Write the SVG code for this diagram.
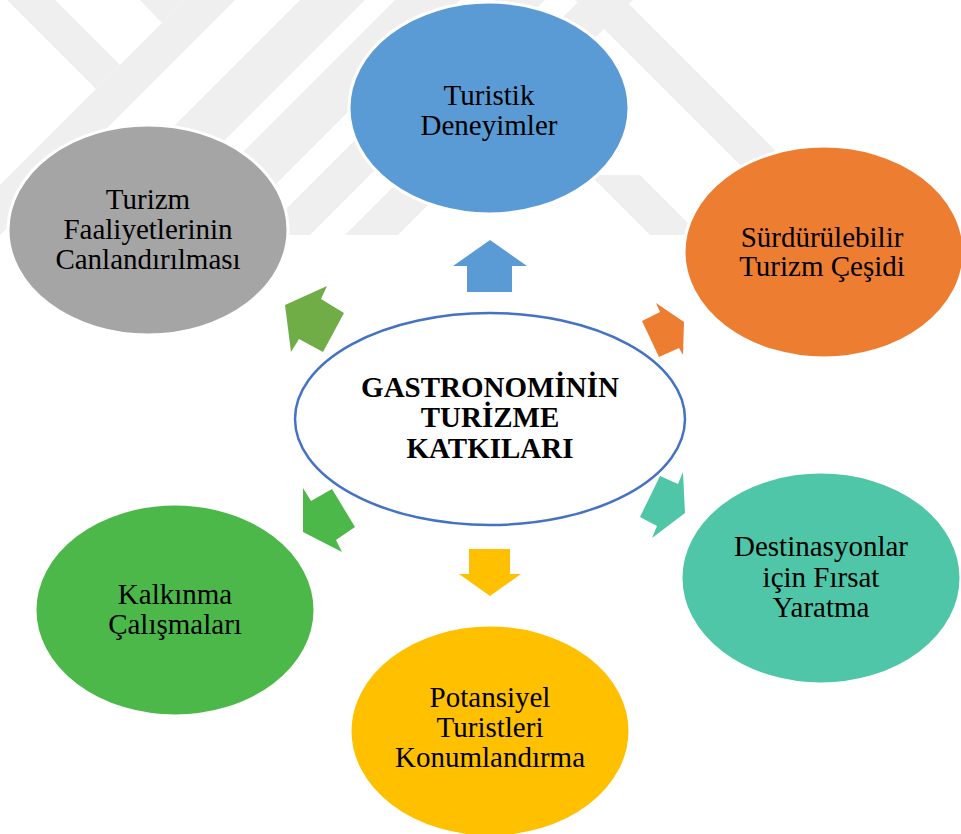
<svg xmlns="http://www.w3.org/2000/svg" width="961" height="834" viewBox="0 0 961 834">
<defs>
<style>
.wm{fill:#EFEFEF}
.node{stroke:#FFFFFF;stroke-width:3}
.lbl{font-family:"Liberation Serif","Times New Roman",serif;font-size:29px;fill:#000000;text-anchor:middle}
.ctr{font-weight:bold}
</style>
<clipPath id="wmclip"><rect x="0" y="0" width="961" height="235"/></clipPath>
</defs>
<rect x="0" y="0" width="961" height="834" fill="#FFFFFF"/>
<g id="watermark" clip-path="url(#wmclip)">
<polygon class="wm" points="7,0 55,0 120,65 96,89"/>
<polygon class="wm" points="140,0 185,0 162,23"/>
<polygon class="wm" points="185,0 235,0 0,235 0,185"/>
<polygon class="wm" points="300,0 365,0 0,365 0,300"/>
<polygon class="wm" points="395,0 460,0 0,460 0,395"/>
<polygon class="wm" points="495,0 545,0 310,235 260,235"/>
<polygon class="wm" points="580,0 633,0 398,235 345,235"/>
<polygon class="wm" points="575,0 625,0 800,175 800,225"/>
<polygon class="wm" points="590,175 640,175 700,235 650,235"/>
</g>
<g id="connectors">
<polygon id="arrow-up" fill="#5B9BD5" points="490,240 527,266 512,266 512,292 467,292 467,266 453,266"/>
<polygon id="arrow-upright" fill="#ED7D31" points="656,303 684,322 683,355 679,348 659,357 642,321 660,312"/>
<polygon id="arrow-downright" fill="#4FC6A7" points="683,472 685,513 652,538 657,526 640,517 660,476 678,484"/>
<polygon id="arrow-down" fill="#FFC000" points="469,549 510,549 510,574 521,574 490,596 459,574 469,574"/>
<polygon id="arrow-downleft" fill="#4CB84A" points="303,488 311,501 332,489 355,527 336,540 342,552 303,532"/>
<polygon id="arrow-upleft" fill="#70AD47" points="285,305 327,286 321,299 344,313 323,352 299,339 291,352"/>
</g>
<g id="center">
<ellipse cx="490" cy="419" rx="195" ry="106" fill="#FFFFFF" stroke="#4472C4" stroke-width="2.5"/>
<text class="lbl ctr" x="490" y="397">GASTRONOMİNİN</text>
<text class="lbl ctr" x="490" y="427">TURİZME</text>
<text class="lbl ctr" x="490" y="458">KATKILARI</text>
</g>
<g id="node-turistik">
<ellipse class="node" cx="489" cy="108" rx="140" ry="106" fill="#5B9BD5"/>
<text class="lbl" x="489" y="105">Turistik</text>
<text class="lbl" x="489" y="135">Deneyimler</text>
</g>
<g id="node-surdurulebilir">
<ellipse class="node" cx="824" cy="252" rx="140" ry="106" fill="#ED7D31"/>
<text class="lbl" x="822" y="247">Sürdürülebilir</text>
<text class="lbl" x="822" y="276">Turizm Çeşidi</text>
</g>
<g id="node-destinasyon">
<ellipse class="node" cx="821" cy="578" rx="140" ry="106" fill="#4FC6A7"/>
<text class="lbl" x="821" y="556">Destinasyonlar</text>
<text class="lbl" x="821" y="587">için Fırsat</text>
<text class="lbl" x="821" y="617">Yaratma</text>
</g>
<g id="node-potansiyel">
<ellipse class="node" cx="490" cy="731" rx="140" ry="106" fill="#FFC000"/>
<text class="lbl" x="490" y="707">Potansiyel</text>
<text class="lbl" x="490" y="737">Turistleri</text>
<text class="lbl" x="490" y="767">Konumlandırma</text>
</g>
<g id="node-kalkinma">
<ellipse class="node" cx="175" cy="610" rx="140" ry="106" fill="#4CB84A"/>
<text class="lbl" x="175" y="604">Kalkınma</text>
<text class="lbl" x="175" y="634">Çalışmaları</text>
</g>
<g id="node-turizm">
<ellipse class="node" cx="148" cy="230" rx="140" ry="105" fill="#A5A5A5"/>
<text class="lbl" x="148" y="209">Turizm</text>
<text class="lbl" x="148" y="239">Faaliyetlerinin</text>
<text class="lbl" x="148" y="269">Canlandırılması</text>
</g>
</svg>
